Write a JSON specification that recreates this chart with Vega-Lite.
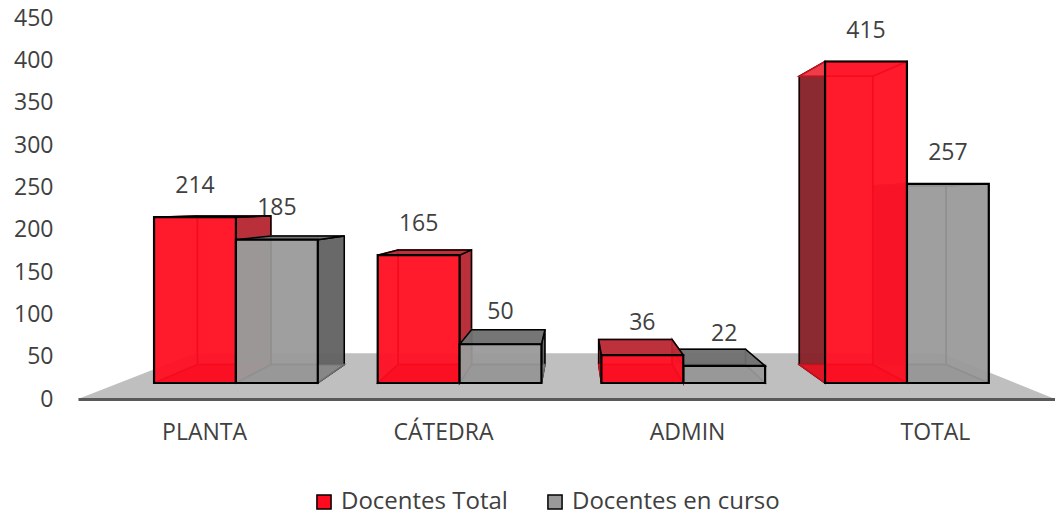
{"$schema":"https://vega.github.io/schema/vega-lite/v6.json","autosize":"none","width":977,"height":381,"padding":{"left":78,"top":18,"right":0,"bottom":124},"background":"white","config":{"view":{"stroke":null},"font":"Open Sans"},
"resolve":{"axis":{"x":"independent","y":"independent"}},
"data":{"values":[
{"category":"PLANTA","series":"Docentes Total","value":214},{"category":"PLANTA","series":"Docentes en curso","value":185},
{"category":"CÁTEDRA","series":"Docentes Total","value":165},{"category":"CÁTEDRA","series":"Docentes en curso","value":50},
{"category":"ADMIN","series":"Docentes Total","value":36},{"category":"ADMIN","series":"Docentes en curso","value":22},
{"category":"TOTAL","series":"Docentes Total","value":415},{"category":"TOTAL","series":"Docentes en curso","value":257}]},
"transform":[
{"calculate":"indexof(['PLANTA','CÁTEDRA','ADMIN','TOTAL'],datum.category)","as":"idx"},
{"calculate":"datum.series==='Docentes Total'?0:1","as":"side"},
{"calculate":"datum.idx+datum.side*0.366","as":"xl"},
{"calculate":"datum.xl+0.366","as":"xr"},
{"calculate":"18.9","as":"yb"},
{"calculate":"18.9+0.915*datum.value","as":"yt"},
{"calculate":"datum.xl+(1.882-datum.xl)*0.103","as":"xlb"},
{"calculate":"datum.xr+(1.882-datum.xr)*0.103","as":"xrb"},
{"calculate":"datum.yb+(230-datum.yb)*0.103","as":"ybb"},
{"calculate":"datum.yt+(230-datum.yt)*0.103","as":"ytb"},
{"calculate":"datum.idx>=2?(datum.side==1?0:1):(datum.side==0?0:1)","as":"pass"},
{"calculate":"datum.xl+0.183","as":"xc"},
{"calculate":"56.7+0.91*datum.value","as":"yl"}
],
"layer":[
{"data":{"values":[{"depth":0},{"depth":1}]},
"transform":[{"calculate":"-0.34+datum.depth*0.236*2.222","as":"fx"},{"calculate":"4.028-datum.depth*0.236*2.146","as":"fx2"},{"calculate":"datum.depth*54","as":"fy"}],
"mark":{"type":"area","orient":"horizontal","color":"#bfbfbf"},
"encoding":{
"x":{"field":"fx","type":"quantitative","scale":{"domain":[-0.34,4.028],"nice":false,"zero":false},"title":null,"axis":{"values":[0.2235,1.292,2.383,3.491],"labelExpr":"datum.value<1?'PLANTA':datum.value<2?'CÁTEDRA':datum.value<3?'ADMIN':'TOTAL'","ticks":false,"grid":false,"domainColor":"#595959","domainWidth":3,"labelFontSize":23,"labelColor":"#404040","labelPadding":22,"labelFont":"Open Sans","zindex":1,"labelOverlap":false}},
"x2":{"field":"fx2"},
"y":{"field":"fy","type":"quantitative","scale":{"domain":[0,450],"nice":false},"title":null,"axis":{"values":[0,50,100,150,200,250,300,350,400,450],"ticks":false,"domain":false,"grid":false,"labelFontSize":23,"labelColor":"#404040","labelPadding":25,"labelFont":"Open Sans","labelOverlap":false}}}},

{"transform":[{"filter":"datum.pass==0"},{"calculate":"['back','left','right']","as":"face"},{"flatten":["face"]},{"calculate":"[0,1]","as":"t"},{"flatten":["t"]},
{"calculate":"datum.face=='back'?(datum.t?datum.xrb:datum.xlb):datum.face=='left'?(datum.t?datum.xlb:datum.xl):(datum.t?datum.xrb:datum.xr)","as":"ax"},
{"calculate":"datum.face=='back'||datum.t?datum.ybb:datum.yb","as":"ay"},
{"calculate":"datum.face=='back'||datum.t?datum.ytb:datum.yt","as":"ay2"},
{"calculate":"(datum.face=='left'&&datum.xlb<datum.xl)||(datum.face=='right'&&datum.xrb>datum.xr)","as":"outer"},
{"calculate":"datum.outer?(datum.side==0?(datum.idx==3?'#6e1f24':'#a8262f'):'#555555'):(datum.side==0?'#ff3040':'#a8a8a8')","as":"fc"},
{"calculate":"datum.outer?'#000000':(datum.side==0?'#c8101e':'#6e6e6e')","as":"sc"},
{"calculate":"datum.category+datum.series+datum.face","as":"gid"}],
"mark":{"type":"area","orient":"vertical","fillOpacity":0.8,"strokeWidth":1.5},
"encoding":{"x":{"field":"ax","type":"quantitative","scale":{"domain":[-0.34,4.028],"nice":false,"zero":false},"axis":null},
"y":{"field":"ay","type":"quantitative","scale":{"domain":[0,450],"nice":false},"axis":null},"y2":{"field":"ay2"},
"detail":{"field":"gid"},"fill":{"field":"fc","type":"nominal","scale":null},"stroke":{"field":"sc","type":"nominal","scale":null}}},

{"transform":[{"filter":"datum.pass==0"},{"calculate":"['bottom','top']","as":"face"},{"flatten":["face"]},{"calculate":"[0,1]","as":"t"},{"flatten":["t"]},
{"calculate":"datum.t?datum.xlb:datum.xl","as":"ax"},{"calculate":"datum.t?datum.xrb:datum.xr","as":"ax2"},
{"calculate":"datum.face=='top'?(datum.t?datum.ytb:datum.yt):(datum.t?datum.ybb:datum.yb)","as":"ay"},
{"calculate":"datum.face=='top'&&datum.yt<230","as":"outer"},
{"calculate":"datum.face=='bottom'?(datum.side==0?'#f01020':'#8c8c8c'):datum.outer?(datum.side==0?'#b02a35':'#6a6a6a'):(datum.side==0?'#ff3a48':'#aaaaaa')","as":"fc"},
{"calculate":"datum.outer?'#000000':(datum.side==0?'#c8101e':'#6e6e6e')","as":"sc"},
{"calculate":"datum.category+datum.series+datum.face","as":"gid"}],
"mark":{"type":"area","orient":"horizontal","fillOpacity":0.85,"strokeWidth":1.5},
"encoding":{"x":{"field":"ax","type":"quantitative","scale":{"domain":[-0.34,4.028],"nice":false,"zero":false},"axis":null},"x2":{"field":"ax2"},
"y":{"field":"ay","type":"quantitative","scale":{"domain":[0,450],"nice":false},"axis":null},
"detail":{"field":"gid"},"fill":{"field":"fc","type":"nominal","scale":null},"stroke":{"field":"sc","type":"nominal","scale":null}}},

{"transform":[{"filter":"datum.pass==0"}],
"mark":{"type":"rect","fillOpacity":0.8,"stroke":"#000000","strokeWidth":2.2},
"encoding":{"x":{"field":"xl","type":"quantitative","scale":{"domain":[-0.34,4.028],"nice":false,"zero":false},"axis":null},"x2":{"field":"xr"},
"y":{"field":"yb","type":"quantitative","scale":{"domain":[0,450],"nice":false},"axis":null},"y2":{"field":"yt"},
"color":{"field":"series","type":"nominal","scale":{"domain":["Docentes Total","Docentes en curso"],"range":["#ff0a1e","#999999"]},"legend":{"title":null,"orient":"none","legendX":234,"legendY":472,"direction":"horizontal","columns":2,"labelFont":"Open Sans","labelFontSize":24,"labelLimit":300,"labelColor":"#404040","symbolType":"square","symbolSize":200,"symbolStrokeColor":"#000000","symbolStrokeWidth":1.5,"symbolOpacity":1,"columnPadding":35,"labelOffset":5,"padding":0}}}},

{"transform":[{"filter":"datum.pass==1"},{"calculate":"['back','left','right']","as":"face"},{"flatten":["face"]},{"calculate":"[0,1]","as":"t"},{"flatten":["t"]},
{"calculate":"datum.face=='back'?(datum.t?datum.xrb:datum.xlb):datum.face=='left'?(datum.t?datum.xlb:datum.xl):(datum.t?datum.xrb:datum.xr)","as":"ax"},
{"calculate":"datum.face=='back'||datum.t?datum.ybb:datum.yb","as":"ay"},
{"calculate":"datum.face=='back'||datum.t?datum.ytb:datum.yt","as":"ay2"},
{"calculate":"(datum.face=='left'&&datum.xlb<datum.xl)||(datum.face=='right'&&datum.xrb>datum.xr)","as":"outer"},
{"calculate":"datum.outer?(datum.side==0?(datum.idx==3?'#6e1f24':'#a8262f'):'#555555'):(datum.side==0?'#ff3040':'#a8a8a8')","as":"fc"},
{"calculate":"datum.outer?'#000000':(datum.side==0?'#c8101e':'#6e6e6e')","as":"sc"},
{"calculate":"datum.category+datum.series+datum.face","as":"gid"}],
"mark":{"type":"area","orient":"vertical","fillOpacity":0.8,"strokeWidth":1.5},
"encoding":{"x":{"field":"ax","type":"quantitative","scale":{"domain":[-0.34,4.028],"nice":false,"zero":false},"axis":null},
"y":{"field":"ay","type":"quantitative","scale":{"domain":[0,450],"nice":false},"axis":null},"y2":{"field":"ay2"},
"detail":{"field":"gid"},"fill":{"field":"fc","type":"nominal","scale":null},"stroke":{"field":"sc","type":"nominal","scale":null}}},

{"transform":[{"filter":"datum.pass==1"},{"calculate":"['bottom','top']","as":"face"},{"flatten":["face"]},{"calculate":"[0,1]","as":"t"},{"flatten":["t"]},
{"calculate":"datum.t?datum.xlb:datum.xl","as":"ax"},{"calculate":"datum.t?datum.xrb:datum.xr","as":"ax2"},
{"calculate":"datum.face=='top'?(datum.t?datum.ytb:datum.yt):(datum.t?datum.ybb:datum.yb)","as":"ay"},
{"calculate":"datum.face=='top'&&datum.yt<230","as":"outer"},
{"calculate":"datum.face=='bottom'?(datum.side==0?'#f01020':'#8c8c8c'):datum.outer?(datum.side==0?'#b02a35':'#6a6a6a'):(datum.side==0?'#ff3a48':'#aaaaaa')","as":"fc"},
{"calculate":"datum.outer?'#000000':(datum.side==0?'#c8101e':'#6e6e6e')","as":"sc"},
{"calculate":"datum.category+datum.series+datum.face","as":"gid"}],
"mark":{"type":"area","orient":"horizontal","fillOpacity":0.85,"strokeWidth":1.5},
"encoding":{"x":{"field":"ax","type":"quantitative","scale":{"domain":[-0.34,4.028],"nice":false,"zero":false},"axis":null},"x2":{"field":"ax2"},
"y":{"field":"ay","type":"quantitative","scale":{"domain":[0,450],"nice":false},"axis":null},
"detail":{"field":"gid"},"fill":{"field":"fc","type":"nominal","scale":null},"stroke":{"field":"sc","type":"nominal","scale":null}}},

{"transform":[{"filter":"datum.pass==1"}],
"mark":{"type":"rect","fillOpacity":0.8,"stroke":"#000000","strokeWidth":2.2},
"encoding":{"x":{"field":"xl","type":"quantitative","scale":{"domain":[-0.34,4.028],"nice":false,"zero":false},"axis":null},"x2":{"field":"xr"},
"y":{"field":"yb","type":"quantitative","scale":{"domain":[0,450],"nice":false},"axis":null},"y2":{"field":"yt"},
"color":{"field":"series","type":"nominal","scale":{"domain":["Docentes Total","Docentes en curso"],"range":["#ff0a1e","#999999"]}}}},

{"mark":{"type":"text","fontSize":23,"color":"#404040","font":"Open Sans"},
"encoding":{"x":{"field":"xc","type":"quantitative","scale":{"domain":[-0.34,4.028],"nice":false,"zero":false},"axis":null},
"y":{"field":"yl","type":"quantitative","scale":{"domain":[0,450],"nice":false},"axis":null},
"text":{"field":"value","type":"quantitative"}}}
]}
